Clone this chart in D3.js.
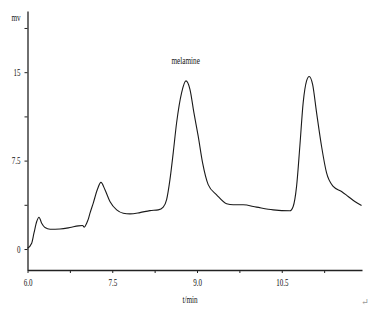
<!DOCTYPE html>
<html>
<head>
<meta charset="utf-8">
<script src="https://cdn.jsdelivr.net/npm/d3@7"></script>
<style>
  body { margin: 0; background: #fff; }
  svg text { font-family: "Liberation Serif", "DejaVu Serif", serif; fill: #111; }
</style>
</head>
<body>
<svg></svg>
<script>
// chromatogram trace: time (min) and signal (mV)
const times = [6.00, 6.074, 6.115, 6.163, 6.203, 6.251, 6.31, 6.40, 6.575, 6.752, 6.899, 6.976, 7.005, 7.047, 7.076,
  7.106, 7.164, 7.235, 7.30, 7.371, 7.459, 7.578, 7.695, 7.813, 7.99, 8.167, 8.314, 8.402, 8.462, 8.521, 8.579,
  8.639, 8.728, 8.804, 8.875, 8.945, 9.021, 9.099, 9.198, 9.347, 9.524, 9.641, 9.817, 10.054, 10.348, 10.644,
  10.702, 10.762, 10.82, 10.879, 10.939, 10.985, 11.045, 11.116, 11.204, 11.293, 11.41, 11.558, 11.675, 11.793, 11.912];
const signal = [0.06, 0.49, 1.36, 2.33, 2.70, 2.19, 1.82, 1.68, 1.70, 1.82, 1.96, 1.99, 1.85, 2.19, 2.53,
  3.04, 3.90, 5.03, 5.65, 5.03, 4.03, 3.32, 3.04, 2.98, 3.09, 3.26, 3.32, 3.55, 4.18, 5.88, 8.16,
  10.71, 13.27, 14.26, 13.55, 11.57, 9.57, 7.30, 5.46, 4.60, 3.84, 3.75, 3.75, 3.55, 3.32, 3.24,
  3.61, 5.31, 8.72, 12.42, 14.26, 14.64, 13.98, 11.57, 8.72, 6.45, 5.31, 4.88, 4.46, 4.03, 3.69];

const xTicks = [6.0, 6.75, 7.5, 8.25, 9.0, 9.75, 10.5, 11.25];
const xTickLabels = ["6.0", "", "7.5", "", "9.0", "", "10.5", ""];
const yTicks = [0, 3.75, 7.5, 11.25, 15, 18.75];
const yTickLabels = ["0", "", "7.5", "", "15", ""];

const peakLabel = { t: 8.8, v: 15.7, text: "melamine" };

const width = 384;
const height = 312;

const svg = d3.select("svg")
  .attr("width", width)
  .attr("height", height);

const xScale = d3.scaleLinear()
  .domain([6.0, 11.92])
  .range([27.5, 362]);

const yScale = d3.scaleLinear()
  .domain([-1.78, 20.19])
  .range([270, 11]);

const points = times.map((t, i) => [t, signal[i]]);

// squeeze text to look like the narrow serif of the original
const condense = (sel, k) => {
  sel.each(function () {
    const w = this.getComputedTextLength();
    d3.select(this).attr("textLength", w * k).attr("lengthAdjust", "spacingAndGlyphs");
  });
};

// x axis
const xAxis = d3.axisBottom(xScale)
  .tickValues(xTicks)
  .tickFormat((d, i) => xTickLabels[i])
  .tickSize(3)
  .tickSizeOuter(0)
  .tickPadding(6);

svg.append("g")
  .attr("id", "x-axis")
  .attr("transform", "translate(0," + 270 + ")")
  .call(xAxis);

// y axis
const yAxis = d3.axisLeft(yScale)
  .tickValues(yTicks)
  .tickFormat((d, i) => yTickLabels[i])
  .tickSize(3)
  .tickSizeOuter(0)
  .tickPadding(4);

svg.append("g")
  .attr("id", "y-axis")
  .attr("transform", "translate(" + 27.5 + ",0)")
  .call(yAxis);

svg.selectAll(".domain").attr("stroke", "#222").attr("stroke-width", 1.3);
svg.selectAll(".tick line").attr("stroke", "#222");
svg.selectAll(".tick text")
  .attr("font-family", "Liberation Serif")
  .attr("font-size", 10)
  .attr("fill", "#111")
  .call(condense, 0.7);

// trace
const line = d3.line()
  .x(d => xScale(d[0]))
  .y(d => yScale(d[1]))
  .curve(d3.curveMonotoneX);

svg.append("path")
  .datum(points)
  .attr("fill", "none")
  .attr("stroke", "#1a1a1a")
  .attr("stroke-width", 1.1)
  .attr("d", line);

// labels
svg.append("text")
  .attr("x", 16)
  .attr("y", 21)
  .attr("text-anchor", "middle")
  .attr("font-size", 10)
  .text("mv")
  .call(condense, 0.72);

svg.append("text")
  .attr("x", xScale(peakLabel.t))
  .attr("y", yScale(peakLabel.v))
  .attr("text-anchor", "middle")
  .attr("font-size", 10)
  .text(peakLabel.text)
  .call(condense, 0.72);

svg.append("text")
  .attr("x", 190)
  .attr("y", 303)
  .attr("text-anchor", "middle")
  .attr("font-size", 10)
  .text("t/min")
  .call(condense, 0.72);

svg.append("text")
  .attr("x", 365)
  .attr("y", 305)
  .attr("text-anchor", "middle")
  .attr("font-size", 9)
  .style("fill", "#999")
  .text("↵");
</script>
</body>
</html>
